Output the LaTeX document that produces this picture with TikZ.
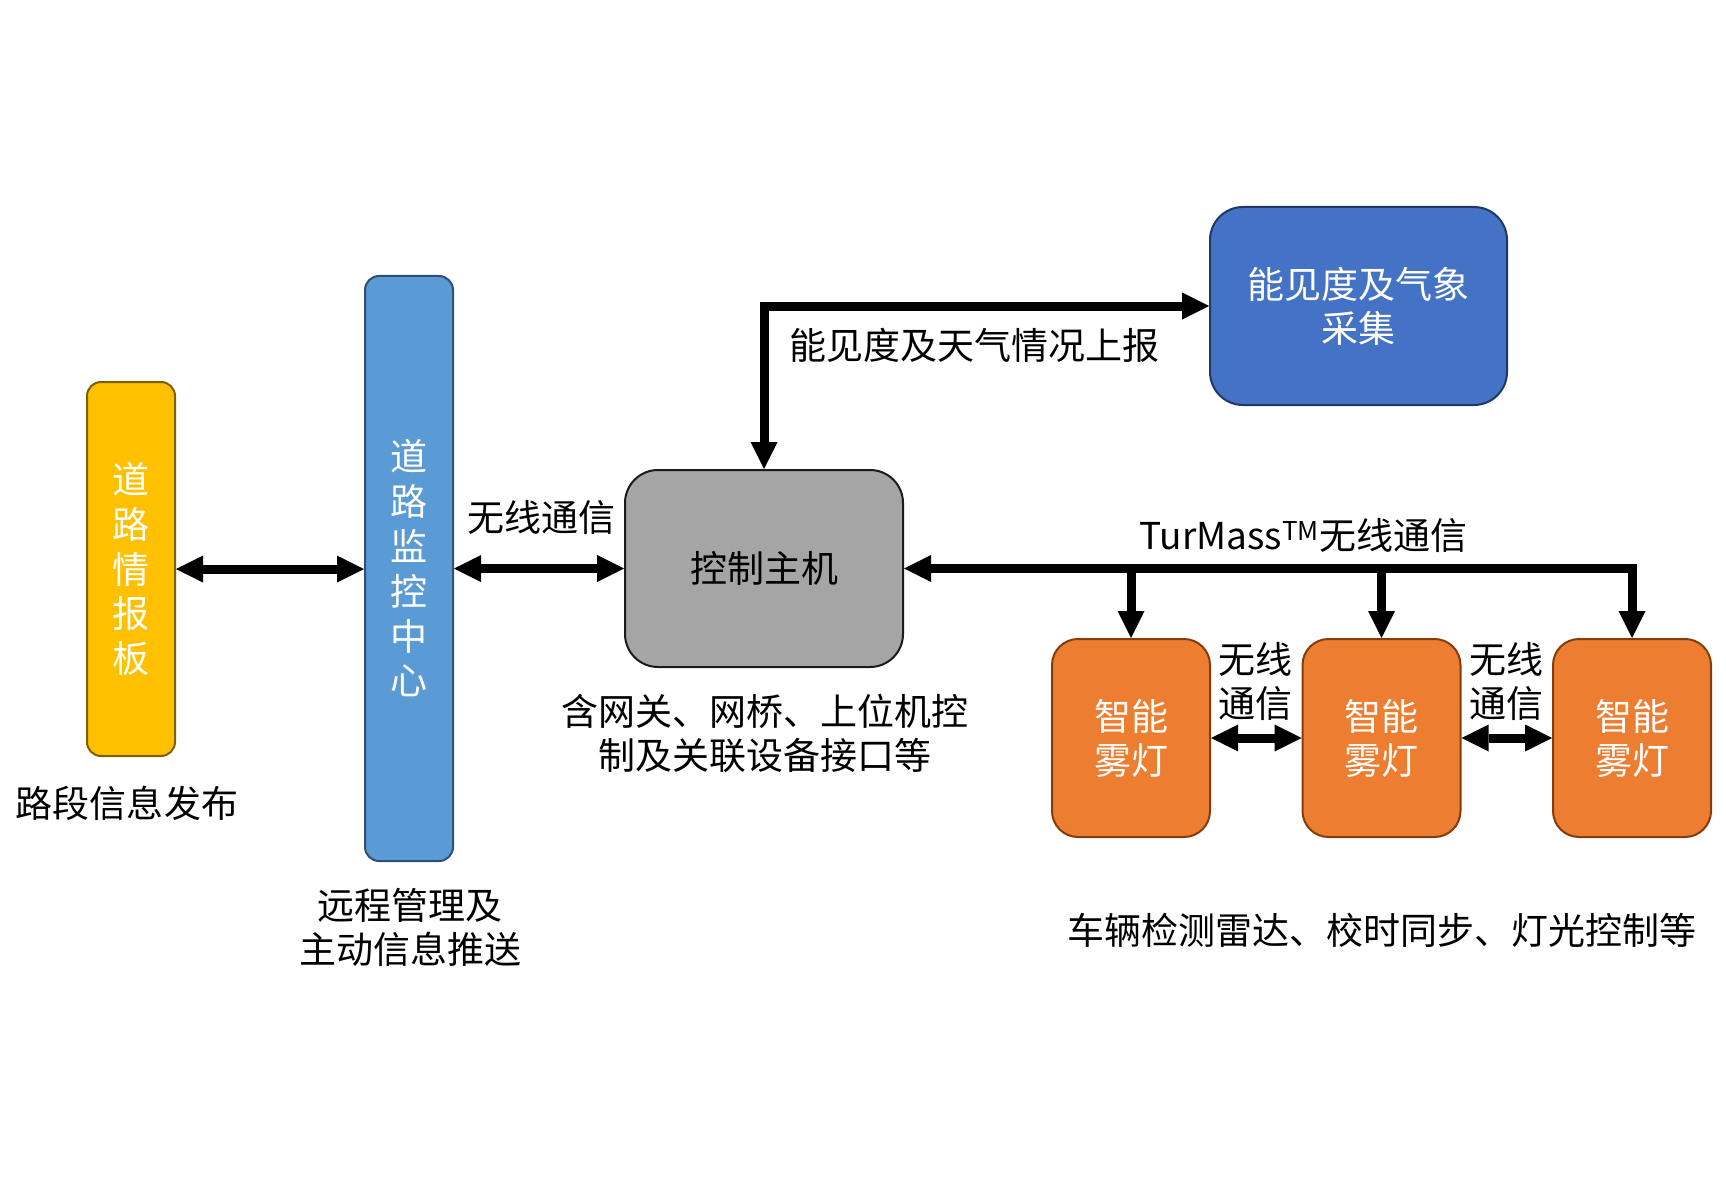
\documentclass[tikz,border=0pt]{standalone}
\usepackage{fontspec}
\setmainfont{Noto Sans CJK SC}
\usetikzlibrary{arrows.meta}
\definecolor{yel}{HTML}{FFC000}
\definecolor{yelb}{HTML}{7F6000}
\definecolor{lblue}{HTML}{5B9BD5}
\definecolor{lblueb}{HTML}{2F4F73}
\definecolor{gry}{HTML}{A5A5A5}
\definecolor{gryb}{HTML}{1A1A1A}
\definecolor{dblue}{HTML}{4472C4}
\definecolor{dblueb}{HTML}{203864}
\definecolor{org}{HTML}{ED7D31}
\definecolor{orgb}{HTML}{843C0C}
\begin{document}
\begin{tikzpicture}[x=1pt,y=-1pt,
  box/.style={draw, line width=2pt, inner sep=0pt, align=center, font=\fontsize{37}{44}\selectfont},
  lbl/.style={inner sep=0pt, align=center, font=\fontsize{37}{44}\selectfont},
  tip/.tip={Triangle[length=27pt,width=27pt,line width=0pt]},
  dbl/.style={line width=9pt, tip-tip},
  one/.style={line width=9pt, -tip}]
\useasboundingbox (0,0) rectangle (1726,1190);

% boxes
\node[box, fill=yel, draw=yelb, rounded corners=14pt, minimum width=88pt, minimum height=374pt,
      text=white, font=\fontsize{37}{44.75}\selectfont] (board) at (131,569) {道\\路\\情\\报\\板};
\node[box, fill=lblue, draw=lblueb, rounded corners=14pt, minimum width=88pt, minimum height=585pt,
      text=white, font=\fontsize{37}{44.8}\selectfont] (mon) at (409,568.5) {道\\路\\监\\控\\中\\心};
\node[box, fill=gry, draw=gryb, rounded corners=33pt, minimum width=278pt, minimum height=197pt]
      (ctrl) at (764,568.5) {控制主机};
\node[box, fill=dblue, draw=dblueb, rounded corners=33pt, minimum width=297pt, minimum height=198pt,
      text=white] (vis) at (1358.5,306) {能见度及气象\\采集};
\node[box, fill=org, draw=orgb, rounded corners=26pt, minimum width=158pt, minimum height=198pt,
      text=white] (l1) at (1131,738) {智能\\雾灯};
\node[box, fill=org, draw=orgb, rounded corners=26pt, minimum width=158pt, minimum height=198pt,
      text=white] (l2) at (1381.5,738) {智能\\雾灯};
\node[box, fill=org, draw=orgb, rounded corners=26pt, minimum width=158pt, minimum height=198pt,
      text=white] (l3) at (1632,738) {智能\\雾灯};

% connectors
\draw[dbl] (board.east) -- (board.east -| mon.west);
\draw[dbl] (mon.east |- ctrl.west) -- (ctrl.west);
\draw[dbl] (ctrl.north) |- (vis.west);
\draw[dbl] (ctrl.east) -| (l3.north);
\draw[one] (ctrl.east -| l1.north) -- (l1.north);
\draw[one] (ctrl.east -| l2.north) -- (l2.north);
\draw[dbl] (l1.east) -- (l2.west);
\draw[dbl] (l2.east) -- (l3.west);

% labels
\node[lbl] (t1) at (541,517) {无线通信};
\node[lbl] (t2) at (974,345) {能见度及天气情况上报};
\node[lbl] (t3) at (1303.5,535) {TurMass\textsuperscript{TM}无线通信};
\node[lbl] (t4) at (1255,681) {无线\\通信};
\node[lbl] (t5) at (1506.5,681) {无线\\通信};
\node[lbl] (t6) at (1382,930) {车辆检测雷达、校时同步、灯光控制等};
\node[lbl] (t7) at (127,803) {路段信息发布};
\node[lbl] (t8) at (410,927.5) {远程管理及\\主动信息推送};
\node[lbl] (t9) at (765,733.5) {含网关、网桥、上位机控\\制及关联设备接口等};
\end{tikzpicture}
\end{document}
